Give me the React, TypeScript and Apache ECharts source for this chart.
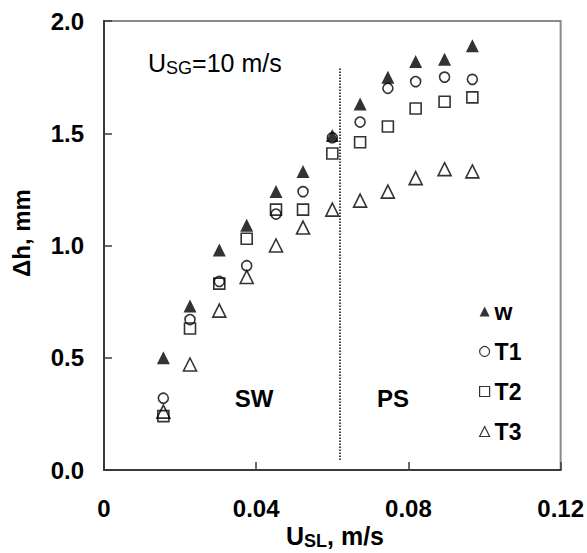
import React, { useEffect, useRef } from "react";
import * as echarts from "echarts";

const usl = [0.0156, 0.0226, 0.0303, 0.0375, 0.0452, 0.0523, 0.0600, 0.0673, 0.0746, 0.0819, 0.0895, 0.0968];
const seriesW = [0.50, 0.73, 0.98, 1.09, 1.24, 1.33, 1.49, 1.63, 1.75, 1.82, 1.83, 1.89];
const seriesT1 = [0.32, 0.67, 0.84, 0.91, 1.14, 1.24, 1.48, 1.55, 1.70, 1.73, 1.75, 1.74];
const seriesT2 = [0.24, 0.63, 0.83, 1.03, 1.16, 1.16, 1.41, 1.46, 1.53, 1.61, 1.64, 1.66];
const seriesT3 = [0.26, 0.47, 0.71, 0.86, 1.00, 1.08, 1.16, 1.20, 1.24, 1.30, 1.34, 1.33];
const xTickLabels = ["0", "0.04", "0.08", "0.12"];
const yTickLabels = ["0.0", "0.5", "1.0", "1.5", "2.0"];
const boundaryX = 0.062;
const boundaryY = [0.045, 1.79];

const FONT = "'Liberation Sans', Arial, Helvetica, sans-serif";

export default function App() {
  const ref = useRef<HTMLDivElement>(null);
  useEffect(() => {
    if (!ref.current) return;
    const chart = echarts.init(ref.current, undefined, { renderer: "svg" });
    const pts = (ys: number[]) => usl.map((x, i) => [x, ys[i]]);
    const hollow = (borderWidth: number) => ({
      color: "rgba(255,255,255,0)",
      borderColor: "#000",
      borderWidth,
    });
    const legendHollow = (name: string, icon: string) => ({
      name,
      icon,
      itemStyle: { color: "rgba(255,255,255,0)", borderColor: "#000", borderWidth: 1.2 },
    });
    chart.setOption({
      animation: false,
      backgroundColor: "#fff",
      textStyle: { fontFamily: FONT },
      grid: {
        left: 104,
        top: 21,
        right: 26,
        bottom: 83,
        show: true,
        borderColor: "#8a8a8a",
        borderWidth: 2,
      },
      xAxis: {
        type: "value",
        min: 0,
        max: 0.12,
        interval: 0.04,
        splitLine: { show: false },
        axisLine: { lineStyle: { color: "#3a3a3a", width: 2 } },
        axisTick: { inside: true, length: 8, lineStyle: { color: "#3a3a3a", width: 1.5 } },
        axisLabel: {
          margin: 26,
          fontSize: 24,
          fontWeight: "bold",
          color: "#000",
          fontFamily: FONT,
          formatter: (v: number) => xTickLabels[Math.round(v / 0.04)],
        },
      },
      yAxis: {
        type: "value",
        min: 0,
        max: 2,
        interval: 0.5,
        splitLine: { show: false },
        axisLine: { lineStyle: { color: "#3a3a3a", width: 2 } },
        axisTick: { inside: true, length: 8, lineStyle: { color: "#3a3a3a", width: 1.5 } },
        axisLabel: {
          margin: 20,
          fontSize: 24,
          fontWeight: "bold",
          color: "#000",
          fontFamily: FONT,
          formatter: (v: number) => yTickLabels[Math.round(v / 0.5)],
        },
      },
      legend: {
        orient: "vertical",
        left: 479,
        top: 300,
        padding: 0,
        itemWidth: 10,
        itemHeight: 10,
        itemGap: 17,
        data: [
          { name: "w", icon: "triangle" },
          legendHollow("T1", "circle"),
          legendHollow("T2", "rect"),
          legendHollow("T3", "triangle"),
        ],
        textStyle: { fontSize: 23, fontWeight: "bold", color: "#000", fontFamily: FONT, lineHeight: 22 },
      },
      series: [
        {
          name: "T3",
          type: "scatter",
          symbol: "triangle",
          symbolSize: 13,
          itemStyle: hollow(1.6),
          data: pts(seriesT3),
          markLine: {
            silent: true,
            symbol: "none",
            label: { show: false },
            lineStyle: { type: "dotted", color: "#000", width: 1.5 },
            data: [[{ coord: [boundaryX, boundaryY[0]] }, { coord: [boundaryX, boundaryY[1]] }]],
          },
        },
        {
          name: "T2",
          type: "scatter",
          symbol: "rect",
          symbolSize: 11,
          itemStyle: hollow(1.6),
          data: pts(seriesT2),
        },
        {
          name: "T1",
          type: "scatter",
          symbol: "circle",
          symbolSize: 10,
          itemStyle: hollow(1.6),
          data: pts(seriesT1),
        },
        {
          name: "w",
          type: "scatter",
          symbol: "triangle",
          symbolSize: 13,
          z: 5,
          itemStyle: { color: "#000" },
          data: pts(seriesW),
        },
      ],
      graphic: [
        {
          type: "text",
          left: 148,
          top: 50,
          style: {
            text: "{a|U}{s|SG}{a|=10 m/s}",
            fill: "#000",
            rich: {
              a: { fontSize: 25, fontFamily: FONT, fill: "#000" },
              s: { fontSize: 18, fontFamily: FONT, fill: "#000", padding: [10, 0, 0, 0] },
            },
          },
        },
        {
          type: "text",
          x: 254,
          y: 398,
          style: { text: "SW", fontSize: 24, fontWeight: "bold", fontFamily: FONT, fill: "#000", align: "center", verticalAlign: "middle" },
        },
        {
          type: "text",
          x: 393,
          y: 398,
          style: { text: "PS", fontSize: 24, fontWeight: "bold", fontFamily: FONT, fill: "#000", align: "center", verticalAlign: "middle" },
        },
        {
          type: "text",
          x: 21,
          y: 233,
          rotation: Math.PI / 2,
          style: { text: "Δh, mm", fontSize: 24, fontWeight: "bold", fontFamily: FONT, fill: "#000", align: "center", verticalAlign: "middle" },
        },
        {
          type: "text",
          x: 335,
          y: 536,
          style: {
            text: "{a|U}{s|SL}{a|, m/s}",
            align: "center",
            verticalAlign: "middle",
            fill: "#000",
            rich: {
              a: { fontSize: 25, fontWeight: "bold", fontFamily: FONT, fill: "#000" },
              s: { fontSize: 18, fontWeight: "bold", fontFamily: FONT, fill: "#000", padding: [10, 0, 0, 0] },
            },
          },
        },
      ],
    });
    return () => chart.dispose();
  }, []);
  return <div ref={ref} style={{ width: 587, height: 553, position: "absolute", left: 0, top: 0 }} />;
}
